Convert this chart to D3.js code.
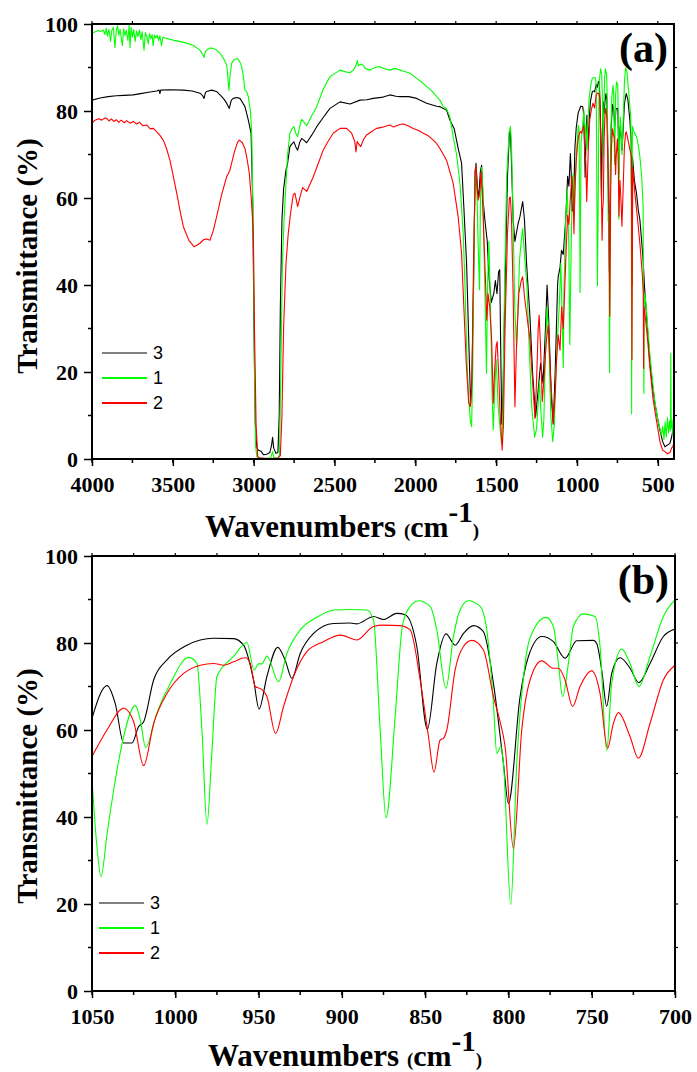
<!DOCTYPE html>
<html>
<head>
<meta charset="utf-8">
<script src="https://cdn.jsdelivr.net/npm/d3@7"></script>
<style>
  html, body { margin: 0; padding: 0; background: #fff; }
  svg { display: block; }
</style>
</head>
<body>
<div id="chart"></div>
<script>
// spectra: [wavenumber (cm-1), transmittance (%)]
// "High" = 4000..1050, "Fine" = 1050..700 (panel b), "Low" = 700..400

var s3High = [[4000,82.5],[3950,83.0],[3900,83.3],[3850,83.5],[3800,83.6],[3745,83.7],[3700,84.0],[3650,84.3],[3600,84.6],[3585,84.8],[3580,84.0],[3575,84.8],[3520,84.9],[3435,84.8],[3380,84.6],[3332,84.1],[3315,83.5],[3307,82.9],[3298,84.2],[3291,84.5],[3260,84.8],[3230,84.5],[3208,83.7],[3185,82.8],[3167,81.8],[3151,80.6],[3138,82.5],[3126,82.9],[3105,83.1],[3085,82.9],[3070,82.0],[3054,81.0],[3033,77.9],[3016,74.9],[3006,59.5],[2998,30],[2990,8],[2980,2.5],[2970,2.0],[2955,1.8],[2940,1.0],[2920,1.1],[2900,1.5],[2890,3.0],[2883,5.0],[2876,2.5],[2862,1.3],[2850,1.5],[2842,10],[2835,35],[2825,55],[2815,62],[2800,66.5],[2792,67.5],[2776,71.8],[2762,72.5],[2751,72.9],[2740,71.8],[2728,71.0],[2715,72.8],[2703,73.7],[2690,73.3],[2672,72.7],[2640,74.5],[2610,76.4],[2570,78.5],[2528,80.6],[2466,82.1],[2404,81.6],[2342,82.5],[2300,82.6],[2260,82.9],[2200,83.2],[2157,83.7],[2120,83.4],[2095,83.3],[2040,83.3],[1992,82.9],[1930,81.8],[1868,81.1],[1848,81.0],[1807,80.2],[1786,77.9],[1760,76.0],[1735,71.4],[1714,68],[1700,58],[1683,45],[1670,28],[1658,12.5],[1650,18],[1640,40],[1630,66],[1625,68],[1615,62],[1608,60],[1598,66],[1590,67.5],[1582,60],[1570,55],[1555,50],[1545,42],[1530,36],[1515,38],[1505,41],[1495,38],[1485,43],[1478,43.5],[1470,20],[1465,8],[1458,15],[1445,40],[1430,65],[1418,75],[1412,75.5],[1405,68],[1395,55],[1384,50],[1365,54],[1353,55.7],[1336,59.2],[1325,55],[1312,45],[1291,32.7],[1275,20],[1256,9.7],[1240,16],[1225,22],[1210,17.4],[1195,30],[1185,40],[1175,32],[1160,15],[1147,8],[1135,20],[1120,40],[1116,42],[1105,44],[1096,48],[1085,47],[1070,55],[1058,65]];
var s3Fine = [[1050,62.7],[1041,70.2],[1036,66],[1031,57.0],[1026,57.0],[1022,60.8],[1019,61.9],[1013,71.5],[1005,76.1],[993,79.5],[977,81.1],[965,81.0],[959,79.5],[953,71.5],[949.7,64.8],[945,72.3],[938.5,79.0],[934,76],[930,71.9],[925,77.6],[917,82.2],[905,84.5],[895,84.6],[891,84.4],[881,86.1],[875,85.4],[867,86.8],[862,86.5],[855,79.2],[848.7,60.2],[843,75.3],[837.5,82.1],[832,79.5],[827,82.2],[821,84.0],[815,82.6],[809,70.7],[803,52.3],[800,43.1],[793,67.7],[788,76.9],[780,81.5],[773,80.3],[766,76.5],[759,80.5],[749,80.6],[747,79.9],[744,73.8],[741,65.5],[738,73.0],[733,76.6],[727,74.2],[721.7,70.9],[715,75.3],[707,81.5],[700,83.2]];
var s3Low = [[695,84.0],[685,82.5],[673,77.9],[665,73],[662,55],[660,40],[658,60],[657,69.5],[645,64],[632,61.1],[620,57],[611,55],[600,50],[591,45.8],[583,40],[578,37.3],[570,33],[560,28],[549,22],[530,16],[518,12.8],[500,9],[487,6.6],[470,4],[456,2.8],[440,3.2],[425,3.6],[415,5],[405,7],[400,9]];

var s1High = [[4000,97.9],[3980,98.2],[3960,98.5],[3945,98.3],[3930,98.6],[3920,97.6],[3912,99.0],[3905,97.2],[3895,98.8],[3885,96.0],[3878,98.5],[3868,99.2],[3858,94.6],[3850,98.4],[3842,99.6],[3834,97.4],[3826,98.8],[3818,96.5],[3812,95.0],[3805,98.9],[3796,97.3],[3788,98.6],[3778,96.2],[3770,99.8],[3765,94.6],[3758,99.2],[3750,97.0],[3742,98.7],[3733,96.0],[3725,98.4],[3716,97.1],[3707,98.6],[3698,96.4],[3690,98.2],[3678,94.0],[3670,98.0],[3660,97.0],[3652,95.5],[3644,97.8],[3636,96.6],[3628,97.6],[3622,95.0],[3614,97.5],[3605,96.8],[3596,97.4],[3588,96.2],[3580,97.3],[3570,95.0],[3562,97.0],[3550,96.8],[3538,96.7],[3500,96.3],[3460,96.0],[3414,95.6],[3370,95.0],[3332,94.0],[3315,93.0],[3307,92.3],[3299,93.6],[3291,94.0],[3270,94.5],[3250,94.4],[3230,94.0],[3208,93.3],[3185,92.0],[3167,90.6],[3160,88],[3153,84.7],[3145,88.5],[3136,91.0],[3120,91.8],[3101,92.1],[3088,91.5],[3074,90.2],[3064,88],[3054,84.8],[3044,84.5],[3033,83.3],[3020,80],[3012,74.9],[3002,50],[2995,20],[2988,3],[2980,0.5],[2960,0.2],[2920,0.1],[2895,0.3],[2883,1.7],[2875,0.3],[2850,0.2],[2840,1],[2832,20],[2822,45],[2812,55],[2806,59.5],[2790,70],[2776,74.9],[2762,76],[2751,76.4],[2740,75],[2728,74.1],[2715,76.5],[2703,78.1],[2690,77.5],[2672,76.6],[2640,79],[2610,81.0],[2570,85],[2528,87.9],[2466,89.4],[2430,89.0],[2404,88.8],[2384,89.4],[2370,90.2],[2359,91.6],[2352,90.4],[2345,90.6],[2330,90.8],[2310,89.8],[2281,89.4],[2250,90.0],[2219,90.2],[2190,89.7],[2157,89.4],[2126,89.8],[2085,89.3],[2033,88.7],[1992,87.5],[1960,86.6],[1930,85.6],[1900,84.7],[1868,83.3],[1848,82.5],[1827,81.0],[1807,80.5],[1786,78.7],[1766,74.1],[1745,70],[1724,63.4],[1704,52],[1693,40],[1680,22],[1670,14],[1660,9],[1652,7.4],[1645,20],[1635,55],[1628,67.5],[1620,63],[1612,50],[1603,38.9],[1597,60],[1590,67],[1582,62],[1575,48],[1565,30],[1560,19.7],[1553,40],[1545,50],[1535,35],[1525,15],[1518,6.7],[1510,15],[1500,22.8],[1494,18],[1488,12],[1478,8],[1467,3.6],[1460,8],[1448,40],[1435,65],[1420,75],[1412,76.4],[1405,72],[1395,55],[1385,35],[1374,25.8],[1365,35],[1355,46],[1345,50],[1336,53],[1325,47],[1310,40],[1295,25],[1280,12],[1262,5],[1250,7],[1240,12.8],[1232,18],[1225,12],[1213,5],[1205,9],[1195,25],[1185,35],[1175,28],[1162,10],[1150,4],[1140,8],[1130,20],[1120,28],[1110,35],[1100,45],[1090,30],[1085,21],[1080,40],[1070,55],[1060,62],[1055,55]];
var s1Fine = [[1050,48.5],[1047,33],[1044.6,26.3],[1041,36],[1036,48.5],[1031,58.5],[1024,65.6],[1021,62.3],[1017.8,56.0],[1011,64],[1003,70.7],[992,76.7],[987,75.3],[984,60.0],[981,38.3],[978,55],[975,72.3],[965,76.9],[957,80.1],[952.7,73.8],[950,75.2],[948,75.2],[945,77.0],[938,71.1],[933,77.6],[925,83.0],[915,85.9],[905,87.6],[895,87.7],[885,87.6],[881,85.3],[877,60.0],[873.5,39.8],[868,63.1],[864,83.0],[861,87.2],[854,89.7],[847,88.4],[843,83.0],[837.5,69.6],[833,81.5],[829,87.6],[824,89.7],[817,88.4],[813,83.0],[809,66.1],[807,54.6],[804.5,56.2],[803,52.3],[798.6,19.9],[795,52.3],[790,75.3],[785,83.0],[777.5,85.9],[773,83.8],[770,75.3],[767.5,67.7],[764,75.3],[761,83.8],[755,86.7],[748,86.1],[745,79.2],[741,55.2],[738,70.7],[732,78.6],[727,75.3],[721.7,70.0],[715,76.9],[707,86.1],[700,89.9]];
var s1Low = [[695,89.5],[690,88.7],[682,85],[675,82],[667,78.5],[664,60],[662,10.4],[660,60],[657,76.5],[652,75.6],[642,74.8],[632,74.1],[620,72],[611,69.5],[600,65],[591,58],[588,30],[586,15.1],[584,35],[580,38],[570,34],[560,29],[549,24],[530,17],[518,13],[500,9],[487,7],[478,5.5],[470,7.5],[462,4.5],[455,8.5],[448,5],[440,9.5],[433,6],[427,8.8],[422,6.5],[420,24.3],[417,7],[412,9],[407,5.5],[403,7],[401,35],[400,60]];

var s2High = [[4000,77.2],[3985,77.8],[3960,78.2],[3940,77.9],[3920,78.4],[3909,78.3],[3895,77.7],[3880,78.2],[3865,77.6],[3850,78.0],[3835,77.4],[3820,77.9],[3800,77.3],[3785,77.8],[3765,77.2],[3745,77.6],[3725,77.0],[3705,77.4],[3685,76.6],[3662,76.8],[3640,75.9],[3620,76.0],[3600,75.2],[3580,74.4],[3559,73.3],[3540,71.5],[3518,68.7],[3500,65.5],[3476,61.1],[3455,57],[3435,53.4],[3400,50.2],[3369,48.8],[3350,49.2],[3332,49.6],[3310,50.4],[3291,50.6],[3270,50.3],[3250,52.5],[3229,55.7],[3200,60.5],[3167,64.9],[3147,66.4],[3120,70.5],[3100,72.8],[3089,73.3],[3070,72.7],[3054,71.4],[3040,68.8],[3027,65.7],[3015,60],[3002,51.9],[2995,30],[2985,8],[2975,0.5],[2960,0.2],[2900,0.1],[2850,0.2],[2835,0.8],[2825,10],[2815,30],[2800,45],[2786,51.9],[2770,57],[2755,60.7],[2745,61.1],[2736,59.5],[2728,58.0],[2712,60.5],[2697,62.4],[2685,62.0],[2672,61.5],[2631,64.9],[2600,68],[2570,71.0],[2540,73],[2508,74.9],[2466,76.0],[2425,76.0],[2394,74.9],[2375,73],[2367,70.6],[2360,73],[2352,72.5],[2338,71.8],[2320,73.5],[2301,74.5],[2270,75.3],[2240,76.0],[2200,76.3],[2157,76.8],[2135,76.3],[2116,76.6],[2095,76.9],[2075,77.0],[2045,76.6],[2013,76.0],[1980,75.5],[1951,74.9],[1920,74.3],[1889,73.3],[1870,72.6],[1848,71.4],[1807,68.7],[1766,63.4],[1735,55.7],[1714,47.3],[1700,35],[1685,22],[1670,13],[1660,12],[1650,18],[1640,45],[1630,66],[1625,67.5],[1618,62],[1611,59.5],[1600,62],[1593,66],[1585,60],[1575,50],[1565,40],[1558,31.9],[1550,38],[1540,35],[1528,27.4],[1518,12.8],[1510,20],[1500,26],[1494,27],[1485,20],[1475,10],[1463,2.1],[1455,8],[1445,30],[1430,52],[1418,60],[1412,60.2],[1405,55],[1395,38],[1384,12],[1375,25],[1360,38],[1345,41],[1336,41.9],[1325,37.3],[1310,33],[1291,27.4],[1275,18],[1260,9.3],[1250,18],[1240,30],[1234,33.1],[1225,25],[1215,13.2],[1205,18],[1190,27],[1178,30.8],[1165,20],[1147,8.3],[1135,15],[1125,24],[1116,28.5],[1105,25],[1095,35],[1085,30],[1075,40],[1065,50],[1058,56]];
var s2Fine = [[1050,53.9],[1041,60.0],[1031,65.0],[1025,61.9],[1019,51.8],[1013,61.5],[1005,68.4],[995,73.0],[985,74.9],[977,75.3],[971,74.9],[965,75.7],[958,76.6],[955,75.3],[952,70.0],[948,69.3],[945,67.7],[939.8,59.2],[935,65.4],[929,72.3],[921,78.0],[911,80.3],[901,81.8],[891,80.7],[881,83.8],[875,84.1],[865,84.0],[859,83.0],[853,71.5],[848,58.5],[844.7,50.3],[841,57.7],[839,58.1],[837,60.0],[832,73.8],[827,79.2],[822,80.6],[815,78.4],[809,67.7],[805,61.9],[802,56.2],[797,32.8],[792,60.0],[787,71.5],[780,75.9],[773,74.2],[770,74.2],[766,71.5],[761.5,65.4],[757,70.0],[750,73.6],[745,68.4],[740.5,55.8],[737,61.5],[734,64.0],[727,58.5],[722,53.5],[715,61.5],[707,71.5],[700,74.9]];
var s2Low = [[695,75.2],[685,73.5],[675,71.5],[663,69.5],[661,40],[660,22.8],[658,45],[655,67],[642,61.1],[625,55],[611,49.5],[595,42],[590,38],[588,20.8],[586,35],[580,33.5],[578,32.7],[570,30],[560,26],[549,21],[530,14],[518,11],[500,7],[487,4],[470,2],[456,1.7],[440,1.2],[425,1.5],[415,2.5],[405,3],[400,4.3]];

var seriesNames = ['3', '1', '2'];
var seriesColors = ['#000000', '#00ff00', '#ff0000'];

var yTicks = [0, 20, 40, 60, 80, 100];
var xTicksA = [4000, 3500, 3000, 2500, 2000, 1500, 1000, 500];
var xTicksB = [1050, 1000, 950, 900, 850, 800, 750, 700];

var W = 697, H = 1072;
var serif = '"Liberation Serif", "Times New Roman", Times, serif';
var sans = '"Liberation Sans", Arial, Helvetica, sans-serif';

var svg = d3.select('#chart').append('svg')
    .attr('width', W)
    .attr('height', H);

function drawPanel(cfg) {
    var x = d3.scaleLinear().domain(cfg.xDomain).range([cfg.left, cfg.right]);
    var y = d3.scaleLinear().domain([0, 100]).range([cfg.bottom, cfg.top]);
    var g = svg.append('g');

    // curves first, frame on top
    var clipId = 'clip-' + cfg.name;
    svg.append('clipPath').attr('id', clipId)
        .append('rect')
        .attr('x', cfg.left).attr('y', cfg.top - 2)
        .attr('width', cfg.right - cfg.left).attr('height', cfg.bottom - cfg.top + 3);

    var line = d3.line()
        .x(function (d) { return x(d[0]); })
        .y(function (d) { return y(d[1]); })
        .curve(cfg.curve);

    g.append('g').attr('clip-path', 'url(#' + clipId + ')')
        .selectAll('path')
        .data(cfg.series)
        .enter()
        .append('path')
        .attr('d', function (d) { return line(d); })
        .attr('fill', 'none')
        .attr('stroke', function (d, i) { return seriesColors[i]; })
        .attr('stroke-width', 1.1)
        .attr('stroke-linejoin', 'round');

    // bottom axis, major + minor ticks outward
    var xMinor = d3.range(cfg.xDomain[0], cfg.xDomain[1] - 1, -cfg.minorStep);
    var bottom = d3.axisBottom(x).tickValues(cfg.xTicks).tickSize(7).tickPadding(10)
        .tickFormat(d3.format('d'));
    var gb = g.append('g').attr('transform', 'translate(0,' + cfg.bottom + ')').call(bottom);
    gb.append('g').selectAll('line').data(xMinor).enter().append('line')
        .attr('x1', function (d) { return x(d); }).attr('x2', function (d) { return x(d); })
        .attr('y1', 0).attr('y2', 4).attr('stroke', '#000').attr('stroke-width', 1.5);

    // left axis
    var left = d3.axisLeft(y).tickValues(yTicks).tickSize(8).tickPadding(6);
    var gl = g.append('g').attr('transform', 'translate(' + cfg.left + ',0)').call(left);
    gl.append('g').selectAll('line').data([10, 30, 50, 70, 90]).enter().append('line')
        .attr('x1', 0).attr('x2', -4)
        .attr('y1', function (d) { return y(d); }).attr('y2', function (d) { return y(d); })
        .attr('stroke', '#000').attr('stroke-width', 1.5);

    // small ticks on top and right
    g.append('g').selectAll('line').data(xMinor).enter().append('line')
        .attr('x1', function (d) { return x(d); }).attr('x2', function (d) { return x(d); })
        .attr('y1', cfg.top).attr('y2', cfg.top - 3).attr('stroke', '#000').attr('stroke-width', 1.2);
    g.append('g').selectAll('line').data(d3.range(10, 100, 10)).enter().append('line')
        .attr('x1', cfg.right).attr('x2', cfg.right + 3)
        .attr('y1', function (d) { return y(d); }).attr('y2', function (d) { return y(d); })
        .attr('stroke', '#000').attr('stroke-width', 1.2);

    [gb, gl].forEach(function (a) {
        a.attr('font-family', null);
        a.select('.domain').remove();
        a.selectAll('.tick line').attr('stroke', '#000').attr('stroke-width', 1.5);
        a.selectAll('.tick text')
            .attr('fill', '#000')
            .style('font-family', serif)
            .style('font-weight', 'bold')
            .style('font-size', '22px');
    });
    gl.selectAll('.tick text').attr('dy', '0.36em');

    // frame
    g.append('rect')
        .attr('x', cfg.left).attr('y', cfg.top)
        .attr('width', cfg.right - cfg.left).attr('height', cfg.bottom - cfg.top)
        .attr('fill', 'none').attr('stroke', '#000').attr('stroke-width', 2);

    // panel letter
    g.append('text')
        .attr('x', cfg.right - 6).attr('y', cfg.top + 38)
        .attr('text-anchor', 'end')
        .style('font-family', serif).style('font-weight', 'bold').style('font-size', '42px')
        .text(cfg.letter);

    // y label
    g.append('text')
        .attr('transform', 'translate(37,' + cfg.yLabelMid + ') rotate(-90)')
        .attr('text-anchor', 'middle')
        .style('font-family', serif).style('font-weight', 'bold').style('font-size', '29px')
        .text('Transmittance (%)');

    // x label
    var xl = g.append('text')
        .attr('x', cfg.xLabelX).attr('y', cfg.xLabelY)
        .style('font-family', serif).style('font-weight', 'bold');
    xl.append('tspan').style('font-size', '31px').text('Wavenumbers ');
    xl.append('tspan').style('font-size', '19px').text('(');
    xl.append('tspan').style('font-size', '30px').text('cm');
    xl.append('tspan').style('font-size', '29px').attr('dy', -15).text('-1');
    xl.append('tspan').style('font-size', '19px').attr('dy', 15).text(')');

    // legend
    var lg = g.append('g').selectAll('g')
        .data(seriesNames).enter().append('g')
        .attr('transform', function (d, i) {
            return 'translate(' + cfg.legendX + ',' + (cfg.legendY + i * cfg.legendGap) + ')';
        });
    lg.append('line')
        .attr('x1', 0).attr('x2', 45).attr('y1', 0).attr('y2', 0)
        .attr('stroke', function (d, i) { return seriesColors[i]; })
        .attr('stroke-width', function (d, i) { return i == 0 ? 1.2 : 2; });
    lg.append('text')
        .attr('x', 51).attr('y', 0).attr('dy', '0.36em')
        .style('font-family', sans).style('font-size', '18px')
        .text(function (d) { return d; });
}

drawPanel({
    name: 'a', letter: '(a)',
    xDomain: [4000, 400], xTicks: xTicksA, minorStep: 250,
    left: 92, right: 674, top: 24, bottom: 459,
    curve: d3.curveLinear,
    series: [
        s3High.concat(s3Fine, s3Low),
        s1High.concat(s1Fine, s1Low),
        s2High.concat(s2Fine, s2Low)
    ],
    yLabelMid: 256, xLabelX: 205, xLabelY: 537,
    legendX: 102, legendY: 353, legendGap: 25
});

drawPanel({
    name: 'b', letter: '(b)',
    xDomain: [1050, 700], xTicks: xTicksB, minorStep: 25,
    left: 92, right: 675, top: 556, bottom: 991,
    curve: d3.curveMonotoneX,
    series: [s3Fine, s1Fine, s2Fine],
    yLabelMid: 786, xLabelX: 208, xLabelY: 1066,
    legendX: 99, legendY: 903, legendGap: 25
});
</script>
</body>
</html>
